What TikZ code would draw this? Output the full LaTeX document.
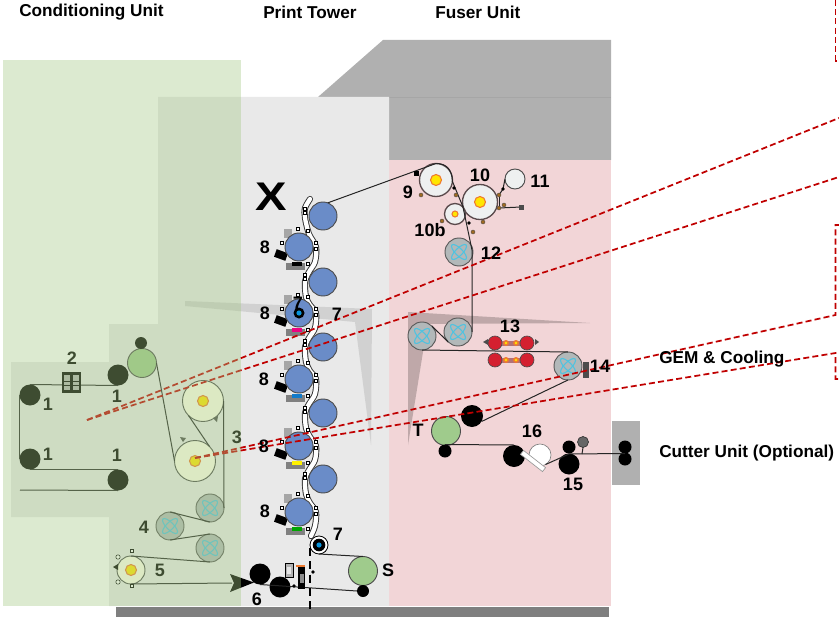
\documentclass[tikz,border=0pt]{standalone}
\usepackage{fontspec}
\setmainfont{Liberation Sans}
\usetikzlibrary{calc}
\definecolor{towergray}{HTML}{E9E9E9}
\definecolor{fuserpink}{HTML}{F2D5D7}
\definecolor{topgray}{HTML}{B0B0B0}
\definecolor{stripgray}{HTML}{7F7F7F}
\definecolor{overgreen}{RGB}{163,200,131}
\definecolor{dashred}{HTML}{C00000}
\definecolor{printblue}{HTML}{6A8CC8}
\definecolor{rollgreen}{HTML}{9FCB8C}
\definecolor{coolgray}{HTML}{B2B8B9}
\definecolor{crosscyan}{HTML}{4FC3E0}
\definecolor{heatwhite}{HTML}{EEF0F0}
\definecolor{ring}{HTML}{5A4A4C}
\definecolor{hotyellow}{HTML}{FFE600}
\definecolor{hotorange}{HTML}{EE7A30}
\definecolor{mybrown}{HTML}{A06A20}
\definecolor{gemred}{HTML}{D42030}
\newcommand{\sq}[2]{\draw[sqr] (#1-1.6,#2-1.6) rectangle (#1+1.6,#2+1.6);}
\newcommand{\bdot}[2]{\fill[mybrown,draw=black!70,line width=.3pt] (#1,#2) circle (2);}
\newcommand{\kdot}[2]{\fill[black] (#1,#2) circle (1.8);}
\newcommand{\coolx}[1]{\begin{scope}[shift={(#1)}]
  \draw[crosscyan,line width=.8pt,rotate=45] (0,0) ellipse (10 and 3.6);
  \draw[crosscyan,line width=.8pt,rotate=-45] (0,0) ellipse (10 and 3.6);
\end{scope}}
\newcommand{\heat}[2]{\fill[hotyellow,draw=hotorange,line width=.8pt] (#1) circle (#2);}
\tikzset{
  sqr/.style={fill=white,draw=black,line width=.5pt},
  roll/.style={circle,inner sep=0pt,outer sep=0pt,minimum size=#1*0.75pt},
  blackroll/.style={roll=#1,fill=black},
  bluer/.style={roll=28,fill=printblue,draw=black!70,line width=.7pt},
  greenr/.style={roll=29,fill=rollgreen,draw=black!70,line width=.7pt},
  coolr/.style={roll=28,fill=coolgray,draw=black!65,line width=.7pt},
  heatr/.style={roll=#1,fill=heatwhite,draw=ring,line width=1pt},
  redr/.style={roll=14,fill=gemred,draw=black!70,line width=.5pt},
  web/.style={draw=black!85,line width=.75pt},
  lab/.style={font=\fontsize{13.5}{15}\selectfont\bfseries,inner sep=0pt},
  head/.style={font=\fontsize{12.9}{14}\selectfont\bfseries,inner sep=0pt,anchor=west},
  reddash/.style={draw=dashred,line width=1.3pt,dash pattern=on 4.5pt off 2.4pt},
}
\begin{document}
\begin{tikzpicture}[x=0.75pt,y=-0.75pt]
\useasboundingbox (0,0) rectangle (839,617);
% housings
\fill[topgray] (383,40) -- (611,40) -- (611,160) -- (389,160) -- (389,97) -- (318,97) -- cycle;
\draw[black!35,line width=.4pt] (389,97) -- (611,97);
\fill[fuserpink] (389,160) rectangle (611,606);
\fill[towergray] (158,97) -- (389,97) -- (389,606) -- (109,606) -- (109,517) -- (11,517) -- (11,362) -- (109,362) -- (109,324) -- (158,324) -- cycle;
\fill[stripgray] (116,607) rectangle (609,617);
\fill[topgray] (612,421) rectangle (640,485);
% shadow wedges
\fill[black!18] (185,301) -- (372,309) -- (371,445) -- (355,322) -- (185,306) -- cycle;
\fill[black!65!fuserpink,opacity=.32] (408,312) -- (590,323) -- (425,324) -- (423,352) -- (408,445) -- cycle;
% web through the print tower
\draw[black!80,line width=4.6pt,line join=round,line cap=round] plot[smooth] coordinates {(310,199) (305,208) (305,218) (309,234) (316,247) (315,262) (309,272) (305,282) (306,297) (310,305) (316,313) (315,328) (309,338) (305,347) (306,362) (310,371) (316,379) (315,394) (309,404) (305,413) (306,428) (310,437) (316,446) (315,460) (309,470) (305,479) (306,494) (310,503) (316,512) (315,526) (311,536)};
\draw[white,line width=3.2pt,line join=round,line cap=round] plot[smooth] coordinates {(310,199) (305,208) (305,218) (309,234) (316,247) (315,262) (309,272) (305,282) (306,297) (310,305) (316,313) (315,328) (309,338) (305,347) (306,362) (310,371) (316,379) (315,394) (309,404) (305,413) (306,428) (310,437) (316,446) (315,460) (309,470) (305,479) (306,494) (310,503) (316,512) (315,526) (311,536)};
% print engines
\foreach \n/\yy/\tone in {1/247/black,2/313/magenta!90!red,3/379/cyan!60!blue,4/446/yellow,5/512/green!65!black}{
  \fill[black!35] (284,\yy-18) rectangle (292,\yy-9);
  \fill[black!50] (286,\yy+16) rectangle (305,\yy+23);
  \fill[\tone] (292,\yy+14.5) rectangle (302,\yy+19);
  \sq{298}{\yy-18}\sq{282}{\yy-4}\sq{308}{\yy-16}\sq{316}{\yy-4}\sq{316}{\yy+2}\sq{308}{\yy+17}
  \sq{305}{\yy-38}\sq{305}{\yy-34}
  \fill[black,rotate around={-20:(281,\yy+8)}] (275,\yy+4) rectangle (287,\yy+12);
  \node[bluer] (pt\n) at (299,\yy) {};
}
\foreach \n/\yy in {1/216,2/282,3/347,4/413,5/479}{
  \node[bluer] (pb\n) at (323,\yy) {};
}
% print-tower exposure rollers
\fill[black] (299,313) circle (5.5);
\fill[cyan!80!blue] (299,313) circle (2.6);
\node[roll=18,fill=white,draw=black,line width=.6pt] (k7) at (319,545) {};
\fill[black] (k7) circle (6.3);
\fill[cyan!80!blue] (k7) circle (2.6);
% infeed
\node[blackroll=21] (c6a) at (260,574) {};
\node[blackroll=21] (c6b) at (280,587) {};
\node[greenr] (rS) at (363,571) {};
\node[blackroll=12] (sS) at (363,591) {};
\draw[web] (k7.south) -- (rS.north);
\draw[web] (c6a.south) -- (sS.west);
\draw[black,line width=.8pt,dash pattern=on 6pt off 4pt] (310,548) -- (310,612);
\draw[black,line width=.7pt,fill=black!30] (285,563) rectangle (293,577);
\fill[black!10] (287,567) rectangle (291,574);
\fill[black] (298,567) rectangle (305,589);
\fill[black!45] (299.5,574) rectangle (303.5,583);
\fill[hotorange] (296,565) rectangle (305,566.5);
\kdot{313}{572}\kdot{294}{586}
% conditioning unit
\node[blackroll=21] (n1) at (30,395) {};
\node[blackroll=21] (n2) at (118,375) {};
\node[blackroll=21] (n3) at (30,459) {};
\node[blackroll=21] (n4) at (118,480) {};
\coordinate (webin) at (20,490);
\draw[web] (n1.north) -- (n2.south);
\draw[web] (n1.west) -- (n3.west);
\draw[web] (n3.south) -- (n4.north);
\draw[web] (n4.south) -- (webin);
\fill[black] (62,372) rectangle (81,393);
\fill[black!30] (64,375) rectangle (70,390);
\fill[black!30] (73,375) rectangle (79,390);
\draw[black,line width=.5pt] (64,381)--(70,381) (73,381)--(79,381) (64,385)--(70,385) (73,385)--(79,385);
\node[greenr] (g1) at (142,363) {};
\node[blackroll=12] (g1s) at (141,343) {};
\node[roll=41,fill=white!92!yellow,draw=black!70,line width=.7pt] (r3a) at (203,401) {};
\node[roll=41,fill=white!92!yellow,draw=black!70,line width=.7pt] (r3b) at (195,461) {};
\heat{r3a}{5.5}\heat{r3b}{5.5}
\node[coolr] (k1) at (210,508) {};
\node[coolr] (k2) at (170,526) {};
\node[coolr] (k3) at (210,548) {};
\coolx{k1}\coolx{k2}\coolx{k3}
\node[roll=28,fill=white!92!yellow,draw=black!70,line width=.7pt] (r5) at (131,570) {};
\heat{r5}{5.5}
\draw[web] (g1.east) -- (r3b.west);
\draw[web] (r3a.225) -- (r3b.45);
\draw[web] (r3a.east) -- (k1.east);
\draw[web] (k1.south) -- (k2.north);
\draw[web] (k2.south) -- (k3.north);
\draw[web] (k3.south) -- (r5.north);
\coordinate (arrowbase) at (232,583);
\coordinate (arrowtip) at (254,582.5);
\draw[web] (r5.south) -- (arrowbase);
\fill[black] (230,574) -- (arrowtip) -- (230,592) -- (234,583) -- cycle;
\fill[black!70] (213,418) -- (218,416) -- (217,422) -- cycle;
\fill[black!70] (180,437) -- (186,438) -- (183,442) -- cycle;
\sq{132}{551}\sq{132}{586}
\draw[black,line width=.4pt,fill=white] (118,557) circle (2.2) (118,582) circle (2.2);
\fill[black] (113,567) -- (118,564) -- (118,570) -- cycle;
% fuser unit
\node[heatr=33] (r9) at (436,180) {};
\node[heatr=35] (r10) at (480,202) {};
\node[heatr=21] (r10b) at (455,214) {};
\node[roll=20,fill=heatwhite,draw=black!70,line width=.7pt] (r11) at (515,179) {};
\node[coolr] (r12) at (459,252) {};
\node[coolr] (c1) at (422,336) {};
\node[coolr] (c2) at (458,332) {};
\node[coolr] (c3) at (568,366) {};
\heat{r9}{5.5}\heat{r10}{5.5}\heat{r10b}{3}
\coolx{r12}\coolx{c1}\coolx{c2}\coolx{c3}
\draw[web] (pb1.70) -- (r9.north);
\draw[web] (r9.north) .. controls (447,163.5) and (452,170) .. (r9.-5) -- (463,207) -- (472,250) -- (c2.east);
\draw[web] (c2.south west) -- (c1.north east);
\draw[web] (c1.south) -- (c3.north);
\coordinate (t11) at (503,189);
\coordinate (t10) at (499,195);
\coordinate (g10) at (521,207);
\draw[web] (r11.west) -- (t11) -- (t10);
\draw[web] (499,208) -- (g10);
\draw[web] (499,195) -- (499,208);
\fill[black] (414,171) rectangle (419,176);
\fill[black!70] (518.5,204.5) rectangle (523.5,209.5);
\bdot{421}{195}\bdot{456}{195}\bdot{442}{221}\bdot{473}{232}\bdot{483}{222}\bdot{499}{195}\bdot{499}{208}\bdot{504}{205}
\kdot{454}{188}\kdot{469}{223}\kdot{503}{189}
% GEM
\foreach \yy/\m in {343/a,360/b}{
  \fill[gemred!60!black!60] (500,\yy-2.5) rectangle (522,\yy+2.5);
  \fill[hotorange] (506,\yy) circle (3);\fill[hotyellow] (506,\yy) circle (1.3);
  \fill[hotorange] (516,\yy) circle (3);\fill[hotyellow] (516,\yy) circle (1.3);
  \node[redr] (ga\m) at (495,\yy) {};
  \node[redr] (gb\m) at (527,\yy) {};
}
\fill[black!70] (483,342) -- (488,339) -- (488,345) -- cycle;
\fill[black!70] (539,342) -- (535,339) -- (535,345) -- cycle;
\fill[black!70] (583,362) rectangle (589,378);
% outfeed
\node[blackroll=22] (b1) at (472,416) {};
\node[greenr] (rT) at (446,431) {};
\node[blackroll=13] (sT) at (445,451) {};
\node[blackroll=22] (b2) at (514,456) {};
\node[blackroll=21] (b3) at (569,464) {};
\node[blackroll=13] (b4) at (569,447) {};
\node[roll=11,fill=black!60,draw=black!80,line width=.5pt] (b5) at (583,442) {};
\node[blackroll=13] (cu1) at (625,447) {};
\node[blackroll=13] (cu2) at (625,459) {};
\node[roll=22,fill=white,draw=black!50,line width=.5pt] (r16) at (540,455) {};
\draw[web] (c3.south) -- (b1.-30);
\draw[web] (sT.north) -- (b2.north);
\draw[fill=white,draw=black!40,line width=.5pt,rotate around={-38:(533,461)}] (519,458.5) rectangle (547,463.5);
\coordinate (nipa) at (569,454);
\draw[web] (r16.-60) -- (nipa) -- (cu1.south);
\draw[web] (b5.south) -- (582,454);
% dashed leaders
\coordinate (ca) at (87,420);
\coordinate (cb) at (195,458);
\draw[reddash] (ca) -- (839,118);
\draw[reddash] (ca) -- (839,177);
\draw[reddash] (cb) -- (835.6,315) -- (835.6,225) -- (839,225);
\draw[reddash] (cb) -- (835.6,353) -- (835.6,379) -- (839,379);
\draw[reddash] (835.6,0) -- (835.6,61) -- (839,61);
% labels
\node[lab] (l2) at (72,358) {2};
\node[lab] (l1a) at (48,404) {1};
\node[lab] (l1b) at (117,396) {1};
\node[lab] (l1c) at (48,454) {1};
\node[lab] (l1d) at (117,455) {1};
\node[lab] (l3) at (237,437) {3};
\node[lab] (l4) at (144,527) {4};
\node[lab] (l5) at (160,570) {5};
\node[lab] (l6) at (257,599) {6};
\node[lab] (lS) at (388,570) {S};
\node[lab] (l7a) at (298,303) {7};
\node[lab] (l7b) at (337,314) {7};
\node[lab] (l7c) at (338,534) {7};
\node[lab] (l8a) at (265,247) {8};
\node[lab] (l8b) at (265,313) {8};
\node[lab] (l8c) at (264,379) {8};
\node[lab] (l8d) at (264,446) {8};
\node[lab] (l8e) at (265,511) {8};
\node[font=\fontsize{30}{31}\selectfont\bfseries,inner sep=0pt] (lX) at (271,197) {\scalebox{1.18}[1]{X}};
\node[lab] (l9) at (408,192) {9};
\node[lab] (l10) at (480,175) {10};
\node[lab] (l11) at (540,181) {11};
\node[lab] (l10b) at (430,230) {10b};
\node[lab] (l12) at (491,253) {12};
\node[lab] (l13) at (510,326) {13};
\node[lab] (l14) at (600,366) {14};
\node[lab] (lT) at (418,430) {T};
\node[lab] (l16) at (532,431) {16};
\node[lab] (l15) at (573,484) {15};
% translucent conditioning overlay
\fill[overgreen,opacity=.38] (3,60) rectangle (241,606);
% headings
\node[head] (h1) at (19,12) {Conditioning Unit};
\node[head] (h2) at (263,12) {Print Tower};
\node[head] (h3) at (435,12) {Fuser Unit};
\node[head] (h4) at (659,359) {GEM \& Cooling};
\node[head] (h5) at (659,453) {Cutter Unit (Optional)};
\end{tikzpicture}
\end{document}
